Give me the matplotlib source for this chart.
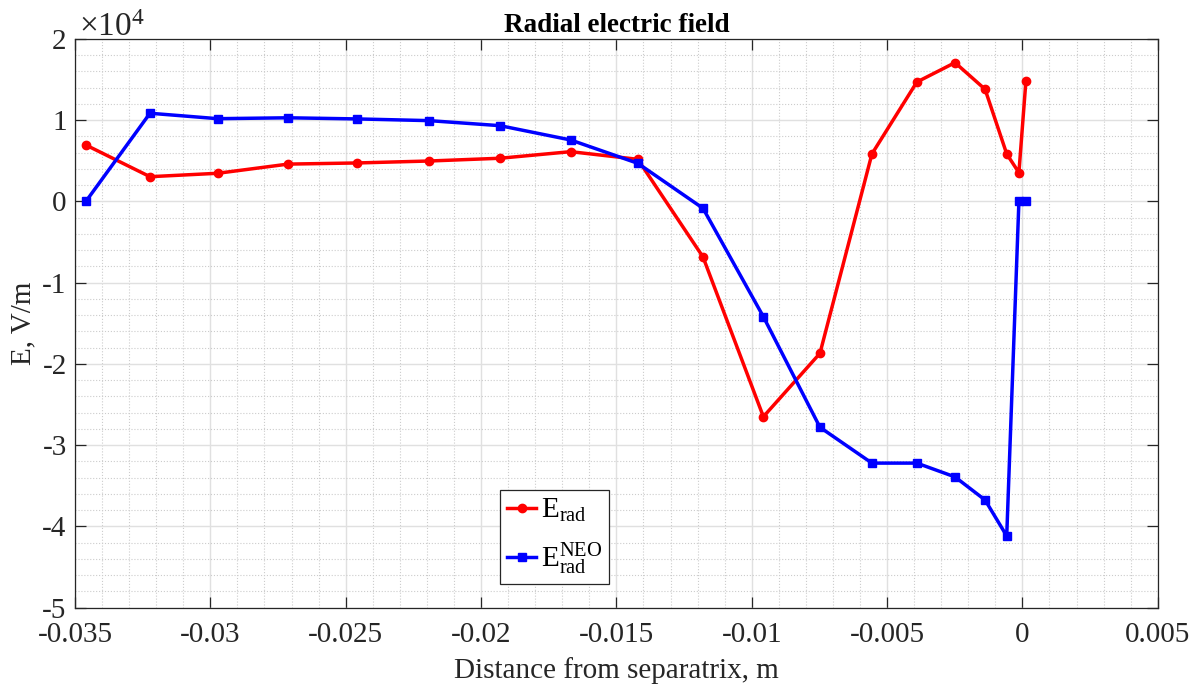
import numpy as np
import matplotlib
matplotlib.use('Agg')
import matplotlib.pyplot as plt
from matplotlib.ticker import FuncFormatter, MultipleLocator, AutoMinorLocator

plt.rcParams['font.family'] = ['Liberation Serif', 'DejaVu Serif']
plt.rcParams['mathtext.fontset'] = 'custom'
plt.rcParams['mathtext.rm'] = 'Liberation Serif'
plt.rcParams['mathtext.it'] = 'Liberation Serif:italic'
plt.rcParams['axes.unicode_minus'] = False

# distance from separatrix, m
dist = [-0.0346, -0.03223, -0.02973, -0.02713, -0.02458, -0.02192, -0.0193,
        -0.01669, -0.01421, -0.0118, -0.00957, -0.00748, -0.00556, -0.0039,
        -0.00249, -0.00138, -0.00058, -0.00013, 0.00013]

# radial electric field, V/m
e_rad = [6950, 3050, 3470, 4600, 4740, 4980, 5320, 6130, 5190, -6830,
         -26490, -18690, 5850, 14700, 17090, 13810, 5850, 3550, 14870]
e_rad_neo = [0, 10860, 10190, 10300, 10160, 9950, 9330, 7570, 4700, -840,
             -14180, -27790, -32200, -32200, -33900, -36740, -41170, 0, 0]

xticks = [-0.035, -0.03, -0.025, -0.02, -0.015, -0.01, -0.005, 0, 0.005]
yscale = 1e4

fig = plt.figure(figsize=(12.04, 6.91), dpi=100)
ax = fig.add_axes([0.0623, 0.1205, 0.8993, 0.8231])

ax.plot(dist, e_rad, '-o', color='red', lw=2.5, ms=6, label=r'$\mathrm{E_{rad}}$')
ax.plot(dist, e_rad_neo, '-s', color='blue', lw=2.5, ms=5.5, label=r'$\mathrm{E_{rad}^{NEO}}$')

ax.set_xlim(-0.035, 0.005)
ax.set_ylim(-5e4, 2e4)
ax.set_xticks(xticks)
ax.xaxis.set_major_formatter(FuncFormatter(lambda v, p: '%g' % v))
ax.yaxis.set_major_locator(MultipleLocator(yscale))
ax.yaxis.set_major_formatter(FuncFormatter(lambda v, p: '%g' % round(v / yscale)))
ax.xaxis.set_minor_locator(AutoMinorLocator(5))
ax.yaxis.set_minor_locator(AutoMinorLocator(5))

ax.grid(True, which='major', color='#e0e0e0', lw=1.0, ls='-')
ax.grid(True, which='minor', color='#cccccc', lw=0.8, ls=':')
ax.set_axisbelow(True)

ink = '#262626'
for s in ax.spines.values():
    s.set_color(ink)
    s.set_linewidth(0.9)
ax.tick_params(which='major', direction='in', length=8, width=0.9, color=ink,
               labelcolor=ink, labelsize=21, top=True, right=True)
ax.tick_params(axis='x', pad=10)
ax.tick_params(axis='y', pad=6)
ax.tick_params(which='minor', length=0, top=True, right=True)

# exponent label, as MATLAB shows it
ax.text(0.004, 0.993, r'$\times10^{4}$', transform=ax.transAxes, fontsize=24,
        color=ink, ha='left', va='bottom')

ax.set_xlabel('Distance from separatrix, m', fontsize=21, color=ink, labelpad=7)
ax.set_ylabel('E, V/m', fontsize=21, color=ink, labelpad=4)
ax.set_title('Radial electric field', fontsize=19.5, fontweight='bold', pad=5)

leg = ax.legend(loc='lower left', bbox_to_anchor=(0.3925, 0.0417), fontsize=21,
                fancybox=False, framealpha=1, edgecolor=ink, handlelength=1.0,
                handletextpad=0.15, borderpad=0.25, labelspacing=0.55,
                borderaxespad=0)
leg.get_frame().set_linewidth(0.9)

fig.savefig('out.png', dpi=100)
